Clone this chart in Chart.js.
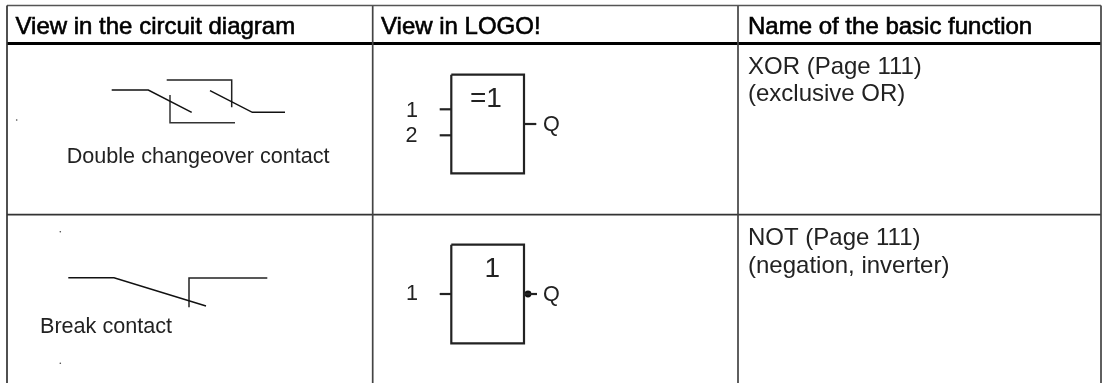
<!DOCTYPE html>
<html>
<head>
<meta charset="utf-8">
<style>
  html, body { margin: 0; padding: 0; background: #fff; overflow: hidden; }
  canvas { display: block; }
</style>
<script src="https://cdn.jsdelivr.net/npm/chart.js@4"></script>
</head>
<body>
<canvas id="logoTable" width="1104" height="383"></canvas>
<script>
// table rules, in axis units
const tableLeft = [[7, 5.5], [7, 383]];
const tableTop = [[7, 5.5], [1101, 5.5]];
const tableRight = [[1101, 5.5], [1101, 383]];
const columnRule1 = [[372.7, 5.5], [372.7, 383]];
const columnRule2 = [[738, 5.5], [738, 383]];
const headerRule = [[7, 43.5], [1101, 43.5]];
const rowRule = [[7, 214.7], [1101, 214.7]];

// double changeover contact
const xorContactA = [[111.7, 90], [148.3, 90], [191.7, 112.3]];
const xorContactB = [[210, 90.7], [252.3, 112.3], [285, 112.3]];
const xorBracketTop = [[166.7, 80], [231.7, 80], [231.7, 107.3]];
const xorBracketBottom = [[170, 95], [170, 122.7], [235, 122.7]];

// break contact
const notContactA = [[68.3, 277.7], [114, 277.7], [206, 306]];
const notContactB = [[189, 307.3], [189, 278], [267.3, 278]];

// LOGO! blocks
const xorBox = [[451.3, 74.7], [524, 74.7], [524, 173.3], [451.3, 173.3], [451.3, 74.7]];
const xorInput1 = [[439.7, 109.3], [451.3, 109.3]];
const xorInput2 = [[439.7, 135.3], [451.3, 135.3]];
const xorOutput = [[524, 124], [536.3, 124]];
const notBox = [[451.3, 244.7], [524, 244.7], [524, 343.3], [451.3, 343.3], [451.3, 244.7]];
const notInput = [[439.7, 294], [451.3, 294]];
const notOutput = [[524, 294], [537, 294]];
const notBubble = [[528, 294]];

// stray specks in the scan
const specks = [[16.7, 120], [60.3, 231.7], [60.3, 363.3]];

const headerLabels = [
    ['View in the circuit diagram', 15.5, 34],
    ['View in LOGO!', 381, 34],
    ['Name of the basic function', 748, 34]
];
const nameLabels = [
    ['XOR (Page 111)', 748, 74],
    ['(exclusive OR)', 748, 101],
    ['NOT (Page 111)', 748, 245],
    ['(negation, inverter)', 748, 273]
];
const captionLabels = [
    ['Double changeover contact', 66.7, 163.3],
    ['Break contact', 40, 333.3],
    ['1', 406, 116.7],
    ['2', 405.5, 141.7],
    ['Q', 543, 130.7],
    ['1', 406, 300],
    ['Q', 543, 300.7]
];
const blockLabels = [
    ['=1', 470, 106.7],
    ['1', 484.5, 277.3]
];

function toPoints(pairs) {
    return pairs.map(p => ({ x: p[0], y: p[1] }));
}

function line(pairs, width, color) {
    return {
        data: toPoints(pairs),
        showLine: true,
        borderColor: color,
        borderWidth: width,
        pointRadius: 0,
        tension: 0,
        clip: false
    };
}

function dots(pairs, radius, color) {
    return {
        data: toPoints(pairs),
        showLine: false,
        backgroundColor: color,
        borderWidth: 0,
        pointRadius: radius,
        clip: false
    };
}

// Chart.js has no label marks for this, so texts go through the axis scales here
const tableText = {
    id: 'tableText',
    afterDatasetsDraw(chart) {
        const ctx = chart.ctx;
        const xs = chart.scales.x;
        const ys = chart.scales.y;
        function put(labels, font, color, stroke) {
            ctx.font = font;
            ctx.fillStyle = color;
            ctx.strokeStyle = color;
            ctx.lineWidth = stroke;
            labels.forEach(l => {
                ctx.fillText(l[0], xs.getPixelForValue(l[1]), ys.getPixelForValue(l[2]));
                if (stroke > 0) {
                    ctx.strokeText(l[0], xs.getPixelForValue(l[1]), ys.getPixelForValue(l[2]));
                }
            });
        }
        ctx.save();
        ctx.textAlign = 'left';
        ctx.textBaseline = 'alphabetic';
        put(headerLabels, '24px "Liberation Sans"', '#000', 0.6);
        put(nameLabels, '24px "Liberation Sans"', '#222', 0);
        put(captionLabels, '21.6px "Liberation Sans"', '#222', 0);
        put(blockLabels, '28px "Liberation Sans"', '#222', 0);
        ctx.restore();
    }
};

new Chart(document.getElementById('logoTable').getContext('2d'), {
    type: 'scatter',
    data: {
        datasets: [
            line(tableLeft, 1.7, '#333'),
            line(tableTop, 1.5, '#555'),
            line(tableRight, 1.7, '#444'),
            line(columnRule1, 1.7, '#444'),
            line(columnRule2, 1.7, '#444'),
            line(rowRule, 1.7, '#333'),
            line(headerRule, 3.2, '#000'),
            line(xorContactA, 1.5, '#111'),
            line(xorContactB, 1.5, '#111'),
            line(xorBracketTop, 1.5, '#222'),
            line(xorBracketBottom, 1.5, '#333'),
            line(notContactA, 1.5, '#111'),
            line(notContactB, 1.5, '#222'),
            line(xorBox, 2.2, '#222'),
            line(xorInput1, 2.2, '#222'),
            line(xorInput2, 2.2, '#222'),
            line(xorOutput, 2.2, '#222'),
            line(notBox, 2.2, '#222'),
            line(notInput, 2.2, '#222'),
            line(notOutput, 2.2, '#222'),
            dots(notBubble, 3.4, '#111'),
            dots(specks, 0.8, '#444')
        ]
    },
    options: {
        responsive: false,
        animation: false,
        layout: { padding: 0, autoPadding: false },
        plugins: {
            legend: { display: false },
            title: { display: false },
            tooltip: { enabled: false }
        },
        scales: {
            x: { type: 'linear', min: 0, max: 1104, display: false },
            y: { type: 'linear', min: 0, max: 383, reverse: true, display: false }
        }
    },
    plugins: [tableText]
});
</script>
</body>
</html>
